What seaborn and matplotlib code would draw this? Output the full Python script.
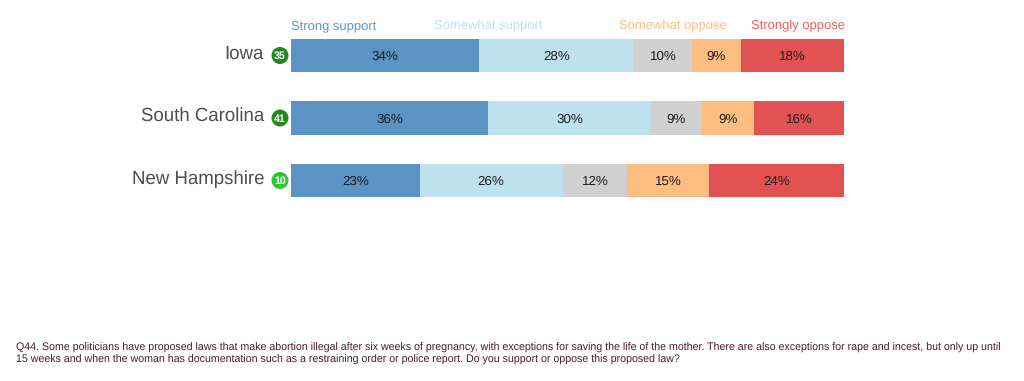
import matplotlib
matplotlib.use("Agg")
import matplotlib.pyplot as plt
import matplotlib.transforms as mtrans
import pandas as pd
import seaborn as sns

states = ["Iowa", "South Carolina", "New Hampshire"]
badges = ["35", "41", "10"]
responses = ["Strong support", "Somewhat support", "Unsure", "Somewhat oppose", "Strongly oppose"]

# segment lengths (share of the bar)
strong_support = [34.0, 35.6, 23.3]
somewhat_support = [28.0, 29.5, 25.8]
unsure = [10.5, 9.2, 11.7]
somewhat_oppose = [8.9, 9.5, 14.8]
strongly_oppose = [18.6, 16.2, 24.4]

# printed labels
labels_strong_support = ["34%", "36%", "23%"]
labels_somewhat_support = ["28%", "30%", "26%"]
labels_unsure = ["10%", "9%", "12%"]
labels_somewhat_oppose = ["9%", "9%", "15%"]
labels_strongly_oppose = ["18%", "16%", "24%"]

question = ("Q44. Some politicians have proposed laws that make abortion illegal after six weeks of pregnancy, "
            "with exceptions for saving the life of the mother. There are also exceptions for rape and incest, but only up until\n"
            "15 weeks and when the woman has documentation such as a restraining order or police report. "
            "Do you support or oppose this proposed law?")

colors = ["#5b93c5", "#bde2ee", "#d0d0d0", "#fdbd81", "#e35252"]
legend_colors = ["#5f97c9", "#bde2ee", "#fdbd81", "#ea5f63"]
legend_names = ["Strong support", "Somewhat support", "Somewhat oppose", "Strongly oppose"]
legend_px = [291, 434, 619, 751]
badge_colors = ["#24881f", "#24881f", "#2fc733"]

W, H = 1024, 381
sns.set_theme(style="white")
plt.rcParams["font.family"] = ["Liberation Sans", "DejaVu Sans"]
plt.rcParams["text.hinting"] = "no_hinting"
plt.rcParams["text.hinting_factor"] = 8

fig = plt.figure(figsize=(W / 100, H / 100), dpi=100, facecolor="white")
top, bottom = 24.25, 211.75
ax = fig.add_axes([291 / W, 1 - bottom / H, 553 / W, (bottom - top) / H])

series = [strong_support, somewhat_support, unsure, somewhat_oppose, strongly_oppose]
labels = [labels_strong_support, labels_somewhat_support, labels_unsure,
          labels_somewhat_oppose, labels_strongly_oppose]
df = pd.DataFrame({"state": states})
left = pd.Series([0.0] * len(states))
for name, vals, lab, col in zip(responses, series, labels, colors):
    df[name] = vals
    sns.barplot(data=df, y="state", x=name, left=left.values, color=col, width=0.53,
                saturation=1, ax=ax, errorbar=None, edgecolor="none")
    for i, (v, t) in enumerate(zip(vals, lab)):
        ax.text(left[i] + v / 2, i + 0.02, t, ha="center", va="center",
                fontsize=9.6, color="#1c1c1c")
    left = left + pd.Series(vals)

ax.set_xlim(0, 100)
ax.set_ylim(2.5, -0.5)
ax.set_xlabel("")
ax.set_ylabel("")
ax.set_xticks([])
ax.set_yticks([])
sns.despine(ax=ax, left=True, bottom=True, top=True, right=True)

shift = mtrans.offset_copy(ax.transData, fig=fig, x=-11 / 100, y=0, units="inches")
ax.scatter([0] * 3, range(3), s=150, c=badge_colors, transform=shift, clip_on=False,
           linewidths=0, zorder=3)
for i, (state, badge) in enumerate(zip(states, badges)):
    ax.annotate(badge, xy=(0, i), xytext=(-11 * 0.72, -0.5), textcoords="offset points",
                ha="center", va="center", fontsize=7.6, fontweight="bold", color="white",
                annotation_clip=False, zorder=4)
    ax.annotate(state, xy=(0, i), xytext=(-27 * 0.72, 1.2), textcoords="offset points",
                ha="right", va="center", fontsize=13.4, color="#4d4d4d",
                annotation_clip=False)

for name, col, px in zip(legend_names, legend_colors, legend_px):
    fig.text(px / W, 1 - 25.5 / H, name, color=col, fontsize=9.4, ha="left", va="center")

fig.text(16 / W, 1 - 354 / H, question, color="#4a1c24", fontsize=7.65, ha="left", va="center",
         linespacing=1.25)

fig.savefig("out.png", dpi=100, facecolor="white")
